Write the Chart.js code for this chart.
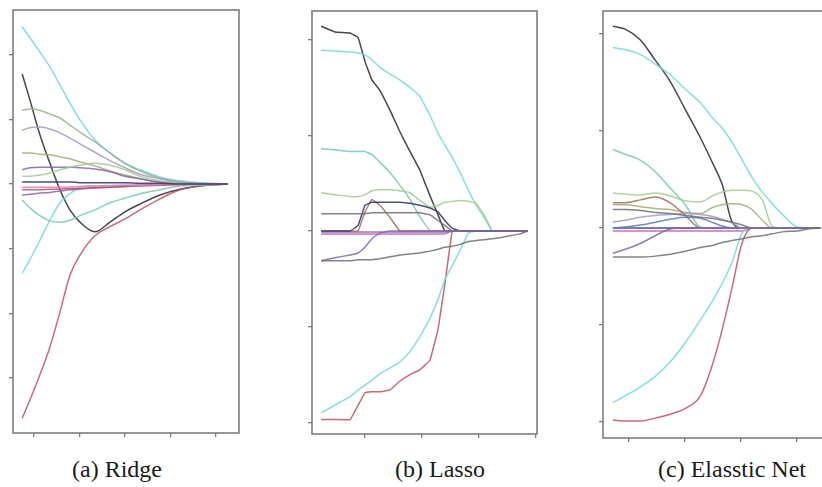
<!DOCTYPE html>
<html>
<head>
<meta charset="utf-8">
<script src="https://cdn.jsdelivr.net/npm/chart.js@4.4.1/dist/chart.umd.min.js"></script>
<style>
html, body { margin: 0; padding: 0; background: #fff; width: 822px; height: 487px; overflow: hidden; }
.panel { position: absolute; top: 0; }
.cap {
    position: absolute; top: 457px; line-height: 24px;
    font-family: 'Liberation Serif', 'DejaVu Serif', 'Noto Serif', Times, serif; font-size: 24px;
    color: #1a1a1a; white-space: nowrap; transform: translateX(-50%);
}
</style>
</head>
<body>
<canvas id="ridge" class="panel" width="250" height="445" style="left:0"></canvas>
<canvas id="lasso" class="panel" width="255" height="446" style="left:295px"></canvas>
<canvas id="enet" class="panel" width="275" height="450" style="left:590px"></canvas>
<div class="cap" style="left:117px">(a) Ridge</div>
<div class="cap" style="left:440px">(b) Lasso</div>
<div class="cap" style="left:732px">(c) Elasstic Net</div>
<script>
// Coefficient paths. Units: one tick step = 1.

// ---- (a) Ridge ----
const ridgeX = [0.74, 0.91, 1.13, 1.35, 1.57, 1.79, 2.01, 2.34, 2.67, 3.00, 3.33, 3.77, 4.21, 4.65, 5.26];
const ridgeXTicks = [1, 2, 3, 4, 5];
const ridgeYTicks = [-3, -2, -1, 0, 1, 2];
const rCyanTop   = [2.43, 2.26, 2.04, 1.81, 1.53, 1.25, 0.99, 0.68, 0.48, 0.32, 0.22, 0.11, 0.05, 0.02, 0];
const rBlack     = [1.70, 1.30, 0.76, 0.32, -0.09, -0.40, -0.59, -0.74, -0.59, -0.43, -0.31, -0.17, -0.08, -0.03, 0];
const rRed       = [-3.62, -3.34, -2.95, -2.52, -1.98, -1.41, -1.10, -0.80, -0.66, -0.54, -0.40, -0.23, -0.09, -0.03, 0];
const rCyanLow   = [-1.38, -1.17, -0.87, -0.56, -0.29, -0.15, -0.05, -0.03, -0.02, -0.02, -0.01, -0.01, 0, 0, 0];
const rTealU     = [-0.25, -0.37, -0.49, -0.57, -0.59, -0.56, -0.49, -0.40, -0.29, -0.22, -0.15, -0.09, -0.03, -0.02, 0];
const rGrayGreen = [1.14, 1.16, 1.14, 1.08, 1.02, 0.91, 0.80, 0.65, 0.48, 0.32, 0.20, 0.09, 0.03, 0.01, 0];
const rLavender  = [0.83, 0.87, 0.88, 0.85, 0.79, 0.71, 0.62, 0.49, 0.36, 0.25, 0.15, 0.08, 0.03, 0.01, 0];
const rOlive     = [0.48, 0.48, 0.46, 0.45, 0.42, 0.39, 0.34, 0.28, 0.20, 0.14, 0.08, 0.03, 0.02, 0, 0];
const rPurple    = [0.22, 0.25, 0.26, 0.26, 0.26, 0.26, 0.25, 0.23, 0.19, 0.12, 0.08, 0.03, 0.02, 0, 0];
const rGreenBump = [0.12, 0.12, 0.14, 0.17, 0.22, 0.26, 0.29, 0.32, 0.29, 0.22, 0.12, 0.05, 0.02, 0, 0];
const rNavy      = [0.03, 0.03, 0.03, 0.03, 0.03, 0.03, 0.02, 0.02, 0.02, 0.02, 0.01, 0.01, 0, 0, 0];
const rPink      = [-0.05, -0.05, -0.05, -0.05, -0.05, -0.05, -0.04, -0.03, -0.03, -0.02, -0.02, -0.01, -0.01, 0, 0];
const rRedFlat   = [-0.09, -0.09, -0.09, -0.08, -0.08, -0.07, -0.07, -0.06, -0.05, -0.04, -0.03, -0.02, -0.01, 0, 0];
const rGrayLow   = [-0.17, -0.16, -0.14, -0.13, -0.11, -0.09, -0.08, -0.06, -0.05, -0.04, -0.02, -0.01, 0, 0, 0];

// ---- (b) Lasso ----
const lassoX = [0.23, 0.47, 0.74, 0.88, 1.00, 1.12, 1.26, 1.44, 1.61, 1.79, 1.96, 2.14, 2.28, 2.40, 2.53, 2.67, 2.81, 2.95, 3.09, 3.23, 3.37, 3.54, 3.72, 3.86];
const lassoXTicks = [1, 2, 3, 4];
const lassoYTicks = [-2, -1, 0, 1, 2];
const lBlack     = [2.14, 2.08, 2.07, 2.02, 1.77, 1.58, 1.47, 1.26, 1.04, 0.83, 0.64, 0.37, 0.17, 0, 0, 0, 0, 0, 0, 0, 0, 0, 0, 0];
const lCyanTop   = [1.89, 1.88, 1.87, 1.86, 1.84, 1.79, 1.71, 1.64, 1.58, 1.50, 1.41, 1.21, 1.02, 0.90, 0.77, 0.61, 0.43, 0.27, 0.14, 0, 0, 0, 0, 0];
const lTeal      = [0.86, 0.85, 0.83, 0.83, 0.83, 0.80, 0.72, 0.61, 0.48, 0.33, 0.15, 0, 0, 0, 0, 0, 0, 0, 0, 0, 0, 0, 0, 0];
const lGreen     = [0.40, 0.38, 0.36, 0.36, 0.38, 0.42, 0.43, 0.43, 0.42, 0.40, 0.32, 0.25, 0.27, 0.30, 0.31, 0.32, 0.31, 0.29, 0.17, 0, 0, 0, 0, 0];
const lDark      = [0.18, 0.18, 0.18, 0.18, 0.18, 0.19, 0.19, 0.19, 0.19, 0.19, 0.19, 0.17, 0.11, 0.06, 0, 0, 0, 0, 0, 0, 0, 0, 0, 0];
const lNavyBump  = [0, 0, 0, 0.06, 0.27, 0.30, 0.30, 0.30, 0.30, 0.29, 0.27, 0.24, 0.20, 0.11, 0.03, 0, 0, 0, 0, 0, 0, 0, 0, 0];
const lBrownBump = [0, 0, 0, 0, 0.20, 0.33, 0.27, 0.14, 0, 0, 0, 0, 0, 0, 0, 0, 0, 0, 0, 0, 0, 0, 0, 0];
const lPurple0   = [-0.01, -0.01, -0.01, -0.01, -0.01, -0.01, -0.01, -0.01, -0.01, -0.01, -0.01, -0.01, -0.01, -0.01, 0, 0, 0, 0, 0, 0, 0, 0, 0, 0];
const lMagenta   = [-0.03, -0.03, -0.03, -0.03, -0.03, -0.03, -0.03, -0.03, -0.03, -0.03, -0.03, -0.03, -0.03, -0.03, 0, 0, 0, 0, 0, 0, 0, 0, 0, 0];
const lPurpleUp  = [-0.31, -0.28, -0.25, -0.23, -0.17, -0.08, -0.02, 0, 0, 0, 0, 0, 0, 0, 0, 0, 0, 0, 0, 0, 0, 0, 0, 0];
const lGrayLong  = [-0.31, -0.31, -0.31, -0.30, -0.30, -0.30, -0.29, -0.27, -0.25, -0.24, -0.23, -0.21, -0.19, -0.17, -0.16, -0.14, -0.11, -0.10, -0.09, -0.08, -0.07, -0.05, -0.03, 0];
const lCyanLow   = [-1.90, -1.82, -1.73, -1.66, -1.61, -1.56, -1.49, -1.43, -1.37, -1.26, -1.11, -0.91, -0.72, -0.51, -0.36, -0.20, -0.02, 0, 0, 0, 0, 0, 0, 0];
const lRedLow    = [-1.97, -1.97, -1.97, -1.82, -1.69, -1.68, -1.68, -1.66, -1.57, -1.50, -1.45, -1.35, -1.03, -0.56, 0, 0, 0, 0, 0, 0, 0, 0, 0, 0];

// ---- (c) Elastic net ----
const enetX = [0.71, 0.93, 1.20, 1.47, 1.74, 2.01, 2.28, 2.49, 2.67, 2.85, 3.03, 3.21, 3.39, 3.57, 3.75, 4.02, 4.21, 4.43];
const enetXTicks = [1, 2, 3, 4, 5];
const enetYTicks = [-2, -1, 0, 1, 2];
const eBlack     = [2.08, 2.05, 1.94, 1.73, 1.51, 1.22, 0.93, 0.68, 0.45, 0.06, 0, 0, 0, 0, 0, 0, 0, 0];
const eCyanTop   = [1.86, 1.84, 1.79, 1.69, 1.58, 1.43, 1.29, 1.14, 1.03, 0.88, 0.70, 0.52, 0.37, 0.25, 0.14, 0.01, 0, 0];
const eTeal      = [0.81, 0.76, 0.70, 0.58, 0.41, 0.24, 0.01, 0, 0, 0, 0, 0, 0, 0, 0, 0, 0, 0];
const eGreen     = [0.36, 0.35, 0.34, 0.36, 0.33, 0.28, 0.27, 0.33, 0.37, 0.39, 0.39, 0.38, 0.29, 0.02, 0, 0, 0, 0];
const eBrown     = [0.26, 0.26, 0.29, 0.32, 0.26, 0.13, 0, 0, 0, 0, 0, 0, 0, 0, 0, 0, 0, 0];
const eGrayGreen = [0.24, 0.24, 0.22, 0.20, 0.19, 0.16, 0.15, 0.21, 0.24, 0.25, 0.24, 0.19, 0.08, 0, 0, 0, 0, 0];
const eDark      = [0.19, 0.19, 0.18, 0.16, 0.15, 0.13, 0.11, 0.10, 0.08, 0.06, 0.03, 0, 0, 0, 0, 0, 0, 0];
const eLavender  = [0.06, 0.08, 0.11, 0.13, 0.14, 0.15, 0.14, 0.12, 0.09, 0.05, 0, 0, 0, 0, 0, 0, 0, 0];
const eBlue      = [0, 0.01, 0.03, 0.06, 0.09, 0.11, 0.10, 0.06, 0.02, 0, 0, 0, 0, 0, 0, 0, 0, 0];
const eNavy      = [0, 0, 0, 0, 0, 0, 0, 0, 0, 0, 0, 0, 0, 0, 0, 0, 0, 0];
const eMagenta   = [-0.03, -0.03, -0.03, -0.03, -0.03, -0.03, -0.03, -0.03, -0.03, -0.03, -0.03, 0, 0, 0, 0, 0, 0, 0];
const ePurpleUp  = [-0.26, -0.22, -0.16, -0.08, -0.01, 0, 0, 0, 0, 0, 0, 0, 0, 0, 0, 0, 0, 0];
const eGrayLong  = [-0.30, -0.30, -0.30, -0.29, -0.27, -0.24, -0.20, -0.18, -0.15, -0.13, -0.11, -0.09, -0.08, -0.06, -0.04, -0.03, -0.01, 0];
const eCyanLow   = [-1.80, -1.73, -1.64, -1.53, -1.38, -1.18, -0.95, -0.76, -0.57, -0.35, -0.05, 0, 0, 0, 0, 0, 0, 0];
const eRedLow    = [-1.98, -1.99, -1.99, -1.96, -1.92, -1.86, -1.73, -1.42, -1.05, -0.61, -0.15, 0, 0, 0, 0, 0, 0, 0];

// Line colours (faded, like the scanned figure).
const C = {
    cyan: 'rgba(120,220,220,0.9)',
    black: 'rgba(50,50,60,0.9)',
    red: 'rgba(190,80,95,0.85)',
    teal: 'rgba(110,200,185,0.85)',
    grayGreen: 'rgba(150,175,140,0.85)',
    lavender: 'rgba(165,150,200,0.85)',
    olive: 'rgba(165,170,115,0.85)',
    purple: 'rgba(130,100,175,0.85)',
    green: 'rgba(160,205,140,0.85)',
    navy: 'rgba(55,60,110,0.9)',
    pink: 'rgba(230,120,180,0.85)',
    magenta: 'rgba(200,80,190,0.85)',
    gray: 'rgba(110,110,115,0.85)',
    brown: 'rgba(150,110,95,0.85)',
    blue: 'rgba(90,120,190,0.85)',
};

// Box round the plot area, drawn under the lines.
const framePlugin = {
    id: 'frame',
    beforeDatasetsDraw(chart) {
        const { ctx, chartArea: a } = chart;
        ctx.save();
        ctx.strokeStyle = '#7d7d7d';
        ctx.lineWidth = 1.6;
        ctx.strokeRect(a.left, a.top, a.right - a.left, a.bottom - a.top);
        ctx.restore();
    },
};

function axis(pos, min, max, ticks, size) {
    return {
        type: 'linear', position: pos, min, max,
        afterBuildTicks: s => { s.ticks = ticks.map(v => ({ value: v })); },
        afterFit: s => { if (pos === 'left') s.width = size; else s.height = size; },
        ticks: { display: false },
        grid: { drawOnChartArea: false, drawTicks: true, tickLength: 4, color: '#7d7d7d', lineWidth: 1.3 },
        border: { display: false },
    };
}

function drawPanel(id, xs, series, sc, smooth) {
    new Chart(document.getElementById(id), {
        type: 'line',
        data: {
            datasets: series.map(([ys, colour]) => ({
                data: xs.map((x, i) => ({ x, y: ys[i] })),
                borderColor: colour,
                borderWidth: 1.5,
                pointRadius: 0,
                fill: false,
                cubicInterpolationMode: smooth ? 'monotone' : 'default',
                tension: smooth ? 0.4 : 0.05,
            })),
        },
        options: {
            responsive: false,
            animation: false,
            devicePixelRatio: 1,
            layout: { padding: { top: sc.padTop, right: sc.padRight, left: 0, bottom: 0 } },
            plugins: { legend: { display: false }, tooltip: { enabled: false } },
            scales: {
                x: axis('bottom', sc.xMin, sc.xMax, sc.xTicks, sc.xSize),
                y: axis('left', sc.yMin, sc.yMax, sc.yTicks, sc.ySize),
            },
        },
        plugins: [framePlugin],
    });
}

drawPanel('ridge', ridgeX, [
    [rNavy, C.navy], [rPink, C.pink], [rRedFlat, C.red], [rGrayLow, C.purple],
    [rGreenBump, C.green], [rPurple, C.purple], [rOlive, C.olive], [rLavender, C.lavender],
    [rGrayGreen, C.grayGreen], [rTealU, C.teal], [rCyanLow, C.cyan], [rRed, C.red],
    [rCyanTop, C.cyan], [rBlack, C.black],
], { xMin: 0.5385, xMax: 5.5055, yMin: -3.849, yMax: 2.689, xTicks: ridgeXTicks, yTicks: ridgeYTicks,
     padTop: 10, padRight: 11, xSize: 12, ySize: 13 }, true);

drawPanel('lasso', lassoX, [
    [lGrayLong, C.gray], [lPurpleUp, C.purple], [lDark, C.gray], [lNavyBump, C.navy],
    [lBrownBump, C.brown], [lGreen, C.green], [lTeal, C.teal], [lCyanLow, C.cyan],
    [lRedLow, C.red], [lCyanTop, C.cyan], [lBlack, C.black],
    [lMagenta, C.magenta], [lPurple0, C.purple],
], { xMin: 0.070, xMax: 4.018, yMin: -2.121, yMax: 2.299, xTicks: lassoXTicks, yTicks: lassoYTicks,
     padTop: 11, padRight: 13, xSize: 12, ySize: 17 }, false);

drawPanel('enet', enetX, [
    [eGrayLong, C.gray], [ePurpleUp, C.purple], [eDark, C.gray], [eLavender, C.lavender],
    [eBlue, C.blue], [eBrown, C.brown], [eGrayGreen, C.olive], [eGreen, C.green],
    [eTeal, C.teal], [eCyanLow, C.cyan], [eRedLow, C.red], [eCyanTop, C.cyan],
    [eBlack, C.black], [eNavy, C.navy], [eMagenta, C.magenta],
], { xMin: 0.533, xMax: 5.0, yMin: -2.165, yMax: 2.237, xTicks: enetXTicks, yTicks: enetYTicks,
     padTop: 11, padRight: 13, xSize: 12, ySize: 13 }, true);
</script>
</body>
</html>
